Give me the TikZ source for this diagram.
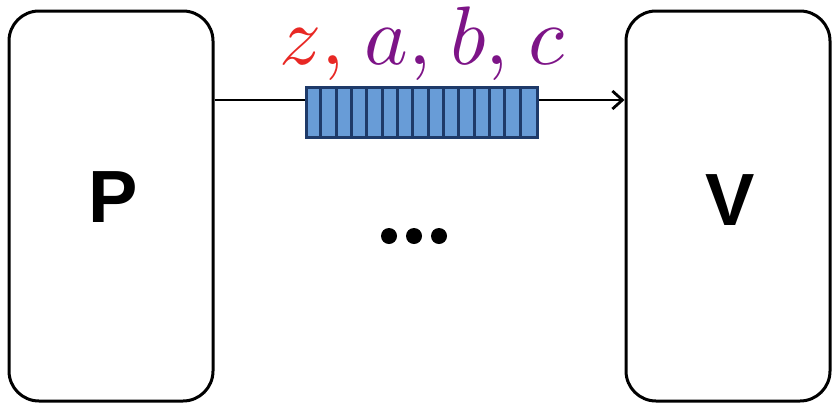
\documentclass[tikz,border=0pt]{standalone}
\usepackage{graphicx}
\usepackage{fontspec}
\newfontfamily\labelfont{Liberation Sans}[Scale=1]
\usetikzlibrary{arrows.meta,calc}
\definecolor{zred}{RGB}{232,40,36}
\definecolor{lpurple}{RGB}{125,20,135}
\definecolor{cellblue}{RGB}{104,156,215}
\definecolor{celldark}{RGB}{30,58,105}
\tikzset{
  party/.style={draw=black, line width=3pt, rounded corners=30pt, minimum width=204pt, minimum height=390pt, inner sep=0pt},
  partylabel/.style={font=\labelfont\bfseries\fontsize{74}{74}\selectfont},
  msgarrow/.style={line width=2.8pt, -{Straight Barb[length=10pt,width=18pt,line width=2.8pt]}},
  queuebox/.style={fill=cellblue, draw=celldark, line width=2pt, minimum width=230pt, minimum height=49pt, inner sep=0pt},
  dot/.style={circle, fill=black, minimum size=16pt, inner sep=0pt}
}
\begin{document}
\begin{tikzpicture}[x=1pt,y=-1pt]
\useasboundingbox (0,0) rectangle (837,405);
\node[party] (P) at (111,206) {};
\node[party] (V) at (728,206) {};
\node[partylabel] (Pl) at (113,197) {P};
\node[partylabel] (Vl) at (730,200) {V};
\draw[msgarrow] ([yshift=106pt]P.east) -- ([yshift=106pt]V.west);
\node[queuebox] (Q) at (421.5,112) {};
\foreach \i in {1,...,14} {
  \draw[celldark, line width=2.8pt] ($(Q.north west)+(\i*15.33,0)$) -- ($(Q.south west)+(\i*15.33,0)$);
}
\draw[celldark, line width=2pt] (Q.north west) rectangle (Q.south east);
\node[anchor=base, inner sep=0pt] (lbl) at (422,64) {\scalebox{8.3}{$\color{zred}z\mathpunct{\color{zred},}\mkern1.2mu\color{lpurple}a,\mkern1.2mu b,\mkern1.2mu c$}};
\node[dot] (d1) at (389,236) {};
\node[dot] (d2) at (414,236) {};
\node[dot] (d3) at (439,236) {};
\end{tikzpicture}
\end{document}
